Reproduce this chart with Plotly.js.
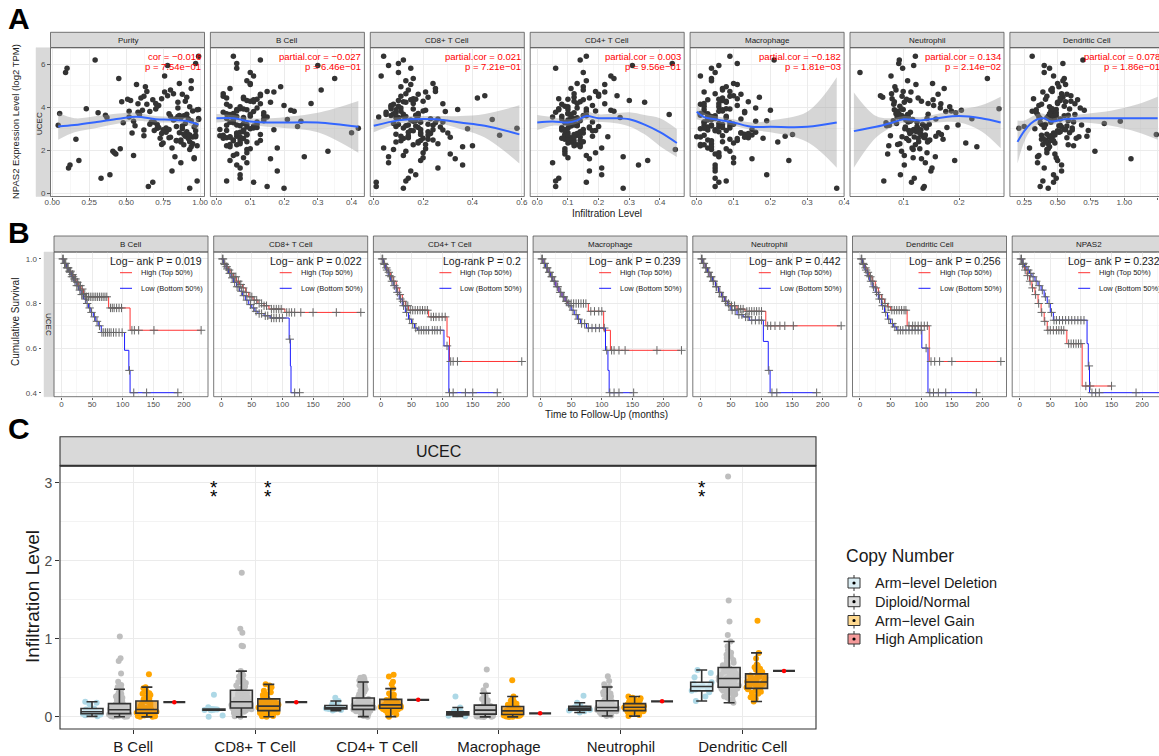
<!DOCTYPE html>
<html>
<head>
<meta charset="utf-8">
<script src="https://cdn.plot.ly/plotly-3.0.1.min.js"></script>
<style>html,body{margin:0;padding:0;background:#fff}#fig{width:1159px;height:756px}</style>
</head>
<body>
<div id="fig"></div>
<script>
const W = 1159, H = 756;
const FONT = '"Liberation Sans", Arial, sans-serif';

// ---------- A: NPAS2 expression vs infiltration ----------
const aPanels = ['Purity', 'B Cell', 'CD8+ T Cell', 'CD4+ T Cell', 'Macrophage', 'Neutrophil', 'Dendritic Cell'];
const aCor = ['cor = −0.016', 'partial.cor = −0.027', 'partial.cor = 0.021', 'partial.cor = 0.003',
  'partial.cor = −0.182', 'partial.cor = 0.134', 'partial.cor = 0.078'];
const aP = ['p = 7.54e−01', 'p = 6.46e−01', 'p = 7.21e−01', 'p = 9.56e−01', 'p = 1.81e−03', 'p = 2.14e−02', 'p = 1.86e−01'];

const npas2Y = [
  3.42,2.87,4.15,3.05,2.31,3.78,4.62,1.84,3.21,2.64,
  5.12,3.56,2.98,4.03,0.58,3.33,2.45,4.41,3.87,1.32,
  2.76,3.64,4.88,2.12,3.15,5.63,2.57,3.91,1.71,4.27,
  3.48,2.93,0.33,3.72,4.55,2.39,3.09,6.38,2.68,3.97,
  1.53,4.72,3.26,2.81,5.35,3.59,2.22,4.09,0.71,3.38,
  2.49,4.33,3.81,1.96,2.71,5.82,3.12,4.47,2.35,3.67,
  1.18,4.96,3.01,2.59,3.84,6.21,2.04,4.19,3.29,0.52,
  2.83,3.53,4.64,1.61,3.94,2.28,5.07,3.44,2.66,4.38,
  3.17,1.43,4.81,2.95,3.75,0.24,3.62,2.52,5.46,3.36,
  2.17,4.24,1.89,3.03,6.05,2.74,
  3.58,2.41,4.06,3.22,2.92,3.71,4.29,1.77,3.46,2.63,
  4.52,3.14,2.79,3.89,1.05,3.31,2.56,4.17,3.63,2.08,
  2.85,3.49,4.74,2.27,3.07,5.24,2.61,3.83,1.66,4.36,
  3.52,2.97,0.87,3.68,4.44,2.46,3.19,5.95,2.72,3.93];
const purityX = [
  0.82,0.91,0.64,0.77,0.95,0.58,0.88,0.43,0.71,0.97,
  0.86,0.52,0.79,0.93,0.98,0.67,0.84,0.74,0.61,0.12,
  0.89,0.36,0.94,0.81,0.56,0.09,0.73,0.99,0.83,0.47,
  0.92,0.69,0.65,0.05,0.78,0.87,0.96,0.99,0.62,0.85,
  0.18,0.76,0.90,0.54,0.45,0.80,0.98,0.72,0.33,0.94,
  0.87,0.53,0.66,0.41,0.97,0.10,0.84,0.91,0.75,0.59,
  0.11,0.63,0.88,0.79,0.95,0.29,0.93,0.70,0.48,0.68,
  0.86,0.37,0.82,0.96,0.23,0.74,0.57,0.99,0.90,0.51,
  0.04,0.87,0.80,0.62,0.31,0.93,0.89,0.16,0.76,0.55,
  0.94,0.85,0.42,0.71,0.97,0.92,
  0.85,0.93,0.71,0.66,0.97,0.79,0.90,0.55,0.83,0.95,
  0.62,0.88,0.74,0.98,0.81,0.69,0.92,0.58,0.86,0.46,
  0.77,0.99,0.64,0.89,0.72,0.94,0.80,0.52,0.96,0.68,
  0.87,0.75,0.39,0.91,0.60,0.84,0.97,0.78,0.93,0.70];
const bcellX = [
  0.05,0.08,0.03,0.11,0.07,0.02,0.13,0.06,0.09,0.04,
  0.10,0.15,0.01,0.07,0.03,0.12,0.05,0.08,0.22,0.06,
  0.09,0.14,0.04,0.18,0.07,0.10,0.02,0.06,0.26,0.11,
  0.08,0.03,0.15,0.05,0.13,0.07,0.09,0.05,0.01,0.12,
  0.04,0.17,0.08,0.06,0.35,0.10,0.03,0.20,0.07,0.14,
  0.05,0.09,0.11,0.33,0.02,0.06,0.24,0.08,0.12,0.04,
  0.07,0.19,0.10,0.03,0.06,0.13,0.09,0.28,0.05,0.11,
  0.40,0.08,0.02,0.16,0.07,0.04,0.10,0.21,0.06,0.12,
  0.03,0.09,0.31,0.08,0.14,0.20,0.05,0.07,0.11,0.25,
  0.04,0.16,0.09,0.42,0.06,0.13,
  0.06,0.09,0.04,0.12,0.08,0.03,0.10,0.05,0.14,0.07,
  0.02,0.11,0.06,0.09,0.18,0.04,0.08,0.13,0.05,0.10,
  0.07,0.03,0.15,0.06,0.12,0.09,0.04,0.23,0.08,0.11,
  0.05,0.17,0.07,0.10,0.03,0.13,0.06,0.30,0.09,0.08];
const cd8X = [
  0.15,0.22,0.08,0.12,0.26,0.05,0.18,0.31,0.10,0.14,
  0.24,0.02,0.19,0.07,0.13,0.28,0.11,0.16,0.21,0.36,
  0.09,0.17,0.25,0.04,0.13,0.10,0.20,0.34,0.06,0.12,
  0.23,0.15,0.01,0.18,0.45,0.09,0.27,0.04,0.14,0.11,
  0.19,0.21,0.08,0.30,0.16,0.12,0.40,0.07,0.14,0.17,
  0.24,0.10,0.29,0.13,0.51,0.15,0.09,0.22,0.18,0.05,
  0.26,0.11,0.38,0.14,0.20,0.12,0.08,0.16,0.25,0.01,
  0.19,0.10,0.13,0.33,0.07,0.21,0.15,0.48,0.11,0.17,
  0.24,0.06,0.14,0.28,0.09,0.12,0.18,0.22,0.03,0.16,
  0.36,0.13,0.20,0.58,0.10,0.19,
  0.13,0.18,0.10,0.22,0.16,0.08,0.20,0.12,0.26,0.14,
  0.11,0.17,0.23,0.09,0.15,0.19,0.12,0.28,0.07,0.21,
  0.14,0.10,0.25,0.16,0.18,0.13,0.31,0.11,0.20,0.15,
  0.09,0.24,0.17,0.12,0.42,0.19,0.14,0.06,0.22,0.16];
const cd4X = [
  0.10,0.14,0.08,0.17,0.12,0.06,0.20,0.09,0.11,0.23,
  0.13,0.05,0.15,0.10,0.06,0.18,0.12,0.07,0.24,0.33,
  0.09,0.16,0.11,0.21,0.13,0.15,0.08,0.10,0.28,0.14,
  0.12,0.19,0.06,0.10,0.26,0.11,0.17,0.16,0.09,0.13,
  0.36,0.22,0.10,0.15,0.25,0.08,0.12,0.18,0.07,0.14,
  0.11,0.30,0.16,0.09,0.13,0.06,0.20,0.12,0.10,0.43,
  0.21,0.15,0.08,0.11,0.19,0.14,0.45,0.13,0.09,0.16,
  0.10,0.27,0.12,0.17,0.07,0.14,0.22,0.11,0.18,0.10,
  0.13,0.05,0.15,0.08,0.12,0.28,0.16,0.09,0.24,0.11,
  0.14,0.35,0.19,0.10,0.44,0.12,
  0.11,0.15,0.09,0.13,0.18,0.10,0.12,0.16,0.08,0.14,
  0.20,0.11,0.13,0.07,0.17,0.12,0.10,0.22,0.15,0.09,
  0.14,0.11,0.19,0.13,0.08,0.16,0.12,0.25,0.10,0.15,
  0.13,0.09,0.21,0.11,0.17,0.14,0.12,0.31,0.10,0.16];
const macroX = [
  0.03,0.06,0.01,0.09,0.04,0.02,0.12,0.05,0.07,0.00,
  0.10,0.03,0.15,0.06,0.08,0.02,0.04,0.11,0.20,0.05,
  0.13,0.01,0.07,0.03,0.09,0.05,0.18,0.02,0.06,0.14,
  0.04,0.08,0.05,0.01,0.10,0.22,0.03,0.09,0.07,0.16,
  0.25,0.02,0.06,0.12,0.04,0.08,0.01,0.11,0.05,0.19,
  0.03,0.07,0.13,0.09,0.02,0.04,0.06,0.17,0.10,0.03,
  0.05,0.08,0.01,0.14,0.07,0.21,0.04,0.02,0.09,0.06,
  0.12,0.03,0.05,0.15,0.08,0.01,0.11,0.04,0.24,0.06,
  0.02,0.10,0.07,0.03,0.13,0.38,0.05,0.09,0.01,0.16,
  0.04,0.08,0.06,0.02,0.11,0.26,
  0.04,0.07,0.02,0.10,0.05,0.03,0.08,0.06,0.12,0.01,
  0.09,0.04,0.14,0.07,0.05,0.02,0.11,0.06,0.03,0.08,
  0.16,0.05,0.09,0.02,0.07,0.04,0.13,0.06,0.10,0.03,
  0.08,0.05,0.19,0.01,0.07,0.11,0.04,0.06,0.15,0.09];
const neutroX = [
  0.104,0.123,0.082,0.141,0.093,0.112,0.162,0.071,0.134,0.097,
  0.152,0.088,0.118,0.183,0.064,0.108,0.145,0.079,0.204,0.101,
  0.131,0.094,0.173,0.115,0.069,0.021,0.126,0.099,0.157,0.083,
  0.223,0.109,0.137,0.091,0.058,0.143,0.103,0.121,0.076,0.166,
  0.192,0.113,0.087,0.129,0.251,0.106,0.073,0.154,0.119,0.081,
  0.147,0.111,0.176,0.096,0.133,0.098,0.124,0.062,0.212,0.107,
  0.151,0.084,0.102,0.138,0.186,0.092,0.117,0.144,0.068,0.114,
  0.163,0.095,0.078,0.132,0.272,0.089,0.122,0.116,0.158,0.105,
  0.074,0.139,0.086,0.127,0.194,0.135,0.097,0.171,0.077,0.112,
  0.232,0.101,0.142,0.125,0.091,0.168,
  0.108,0.127,0.093,0.146,0.115,0.086,0.132,0.101,0.158,0.119,
  0.097,0.138,0.111,0.083,0.149,0.124,0.105,0.167,0.091,0.129,
  0.113,0.142,0.099,0.121,0.178,0.107,0.136,0.088,0.117,0.153,
  0.102,0.131,0.094,0.144,0.126,0.109,0.198,0.118,0.139,0.096];
const dendriticX = [
  0.45,0.52,0.38,0.61,0.43,0.34,0.57,0.48,0.41,0.66,
  0.50,0.36,0.55,0.44,0.39,0.62,0.47,0.32,0.70,0.53,
  0.42,0.58,0.46,0.29,0.51,0.40,0.64,0.49,0.35,0.56,
  0.44,0.73,0.37,0.48,0.60,0.42,0.53,0.31,0.45,0.67,
  0.50,0.39,0.85,0.47,0.55,0.43,0.62,0.36,0.49,0.58,
  0.41,0.52,0.46,0.78,0.38,0.44,0.25,0.54,0.48,0.63,
  0.40,0.51,0.33,0.57,0.45,0.69,0.42,0.50,0.37,0.47,
  0.59,0.43,0.53,1.05,0.46,0.39,0.56,0.48,0.72,0.41,
  0.52,0.35,0.45,0.61,0.49,0.43,0.55,0.38,0.47,0.97,
  0.44,0.50,0.42,0.21,0.54,1.24,
  0.47,0.41,0.55,0.38,0.50,0.44,0.60,0.36,0.52,0.46,
  0.42,0.57,0.48,0.34,0.53,0.45,0.39,0.63,0.49,0.43,
  0.51,0.37,0.46,0.58,0.40,0.54,0.44,0.31,0.49,0.65,
  0.42,0.56,0.47,0.35,0.52,0.45,0.68,0.40,0.48,0.59];
const scatterX = [purityX, bcellX, cd8X, cd4X, macroX, neutroX, dendriticX];

// loess fit and its confidence band
const smoothX = [
  [0.04,0.15,0.3,0.45,0.57,0.7,0.8,0.9,0.99],
  [0,0.05,0.1,0.15,0.2,0.3,0.42],
  [0,0.1,0.15,0.25,0.35,0.45,0.59],
  [0,0.05,0.1,0.13,0.16,0.2,0.25,0.3,0.35,0.4,0.455],
  [0,0.02,0.05,0.1,0.15,0.2,0.3,0.38],
  [0.01,0.05,0.08,0.1,0.13,0.16,0.2,0.24,0.275],
  [0.2,0.25,0.3,0.35,0.4,0.45,0.55,0.7,0.9,1.1,1.25]];
const smoothY = [
  [3.12,3.18,3.32,3.48,3.57,3.45,3.43,3.38,3.2],
  [3.5,3.5,3.35,3.3,3.3,3.3,3.1],
  [3.15,3.4,3.45,3.45,3.3,3.15,2.75],
  [3.3,3.35,3.3,3.4,3.6,3.5,3.5,3.45,3.2,2.85,2.35],
  [3.8,3.55,3.45,3.3,3.1,3.1,3.1,3.3],
  [2.9,3.1,3.3,3.45,3.4,3.5,3.6,3.5,3.3],
  [2.4,2.9,3.25,3.45,3.5,3.35,3.45,3.5,3.5,3.5,3.5]];
const smoothLo = [
  [2.5,2.85,3.05,3.25,3.38,3.3,3.3,3.22,2.95],
  [3.3,3.35,3.2,3.1,3.05,2.85,1.9],
  [2.85,3.25,3.3,3.3,3.0,2.6,1.4],
  [2.95,3.15,3.15,3.25,3.42,3.32,3.28,3.12,2.75,2.2,1.7],
  [3.45,3.35,3.3,3.15,2.95,2.85,2.4,1.2],
  [1.2,2.6,3.1,3.3,3.25,3.3,3.3,2.9,2.1],
  [1.4,2.4,2.95,3.2,3.3,3.2,3.3,3.3,3.15,2.85,2.5]];
const smoothHi = [
  [3.75,3.5,3.6,3.72,3.76,3.6,3.57,3.54,3.45],
  [3.7,3.65,3.5,3.5,3.55,3.75,4.3],
  [3.45,3.55,3.6,3.6,3.6,3.7,4.1],
  [3.65,3.55,3.45,3.55,3.78,3.68,3.72,3.78,3.65,3.5,3.0],
  [4.15,3.75,3.6,3.45,3.3,3.4,3.8,5.4],
  [4.7,3.6,3.5,3.6,3.55,3.7,3.9,4.1,4.5],
  [3.4,3.4,3.55,3.7,3.7,3.5,3.6,3.7,3.85,4.15,4.5]];

// ---------- B: Kaplan-Meier curves ----------
const bPanels = ['B Cell', 'CD8+ T Cell', 'CD4+ T Cell', 'Macrophage', 'Neutrophil', 'Dendritic Cell', 'NPAS2'];
const bLogrank = ['Log− ank P = 0.019', 'Log− ank P = 0.022', 'Log-rank P = 0.2', 'Log− ank P = 0.239',
  'Log− ank P = 0.442', 'Log− ank P = 0.256', 'Log− ank P = 0.232'];
const highTime = [
  [0,4,8,12,16,20,24,28,32,36,40,77,112,228],
  [0,4,8,12,16,20,25,30,35,40,45,52,60,70,78,104,228],
  [0,4,8,12,16,20,25,30,35,40,45,78,108,112,228],
  [0,4,8,12,16,20,25,30,35,40,44,78,103,114,228],
  [0,4,8,12,16,20,25,30,35,40,45,50,60,73,107,228],
  [0,4,8,12,16,20,25,30,35,40,45,50,77,113,228],
  [0,4,8,12,16,20,25,30,35,40,45,77,102,150]];
const highSurv = [
  [1,0.98,0.96,0.945,0.93,0.91,0.895,0.88,0.865,0.845,0.83,0.78,0.68,0.68],
  [1,0.98,0.965,0.95,0.935,0.92,0.9,0.885,0.87,0.85,0.83,0.815,0.8,0.79,0.775,0.76,0.76],
  [1,0.98,0.96,0.94,0.92,0.9,0.87,0.84,0.81,0.79,0.77,0.74,0.65,0.54,0.54],
  [1,0.98,0.96,0.94,0.92,0.9,0.875,0.85,0.83,0.81,0.8,0.765,0.68,0.59,0.59],
  [1,0.98,0.96,0.94,0.92,0.9,0.875,0.85,0.83,0.81,0.8,0.79,0.775,0.765,0.7,0.7],
  [1,0.98,0.96,0.94,0.92,0.9,0.87,0.84,0.82,0.8,0.785,0.77,0.7,0.54,0.54],
  [1,0.975,0.95,0.925,0.9,0.87,0.84,0.8,0.76,0.72,0.68,0.62,0.43,0.43]];
const lowTime = [
  [0,4,8,12,16,20,24,28,32,36,40,44,48,52,56,60,65,103,110,112,190],
  [0,4,8,12,16,20,25,30,35,40,45,50,55,60,70,80,111,113,114,128],
  [0,4,8,12,16,20,25,30,35,40,45,50,55,60,103,111,190],
  [0,4,8,12,16,20,25,30,35,40,45,50,55,60,65,75,106,110,112,150],
  [0,4,8,12,16,20,25,30,35,40,45,50,60,70,80,103,111,114,190],
  [0,4,8,12,16,20,25,30,35,40,45,50,55,60,101,111,190],
  [0,4,8,12,16,20,25,30,35,40,45,50,55,110,112,114,240]];
const lowSurv = [
  [1,0.98,0.96,0.94,0.92,0.9,0.88,0.86,0.84,0.82,0.8,0.78,0.76,0.74,0.72,0.7,0.67,0.59,0.5,0.4,0.4],
  [1,0.975,0.955,0.935,0.915,0.895,0.875,0.855,0.835,0.815,0.795,0.78,0.765,0.755,0.745,0.735,0.64,0.52,0.4,0.4],
  [1,0.975,0.95,0.925,0.9,0.88,0.85,0.82,0.79,0.76,0.73,0.71,0.69,0.68,0.61,0.4,0.4],
  [1,0.98,0.96,0.94,0.92,0.9,0.875,0.85,0.83,0.81,0.79,0.77,0.75,0.73,0.71,0.69,0.59,0.5,0.4,0.4],
  [1,0.98,0.96,0.94,0.92,0.9,0.875,0.85,0.83,0.81,0.79,0.77,0.75,0.74,0.725,0.63,0.5,0.4,0.4],
  [1,0.975,0.95,0.925,0.9,0.875,0.85,0.82,0.79,0.76,0.73,0.71,0.695,0.68,0.6,0.4,0.4],
  [1,0.98,0.965,0.95,0.935,0.92,0.9,0.88,0.86,0.83,0.8,0.76,0.725,0.62,0.52,0.4,0.4]];
const highCensor = [
  [2,5,7,10,13,15,18,21,23,26,29,31,34,38,41,44,47,50,53,56,59,62,65,68,71,74,80,83,86,90,94,98,115,119,126,151,228],
  [2,5,9,13,17,21,24,28,32,36,41,47,50,54,58,62,66,70,74,82,86,90,94,98,107,111,115,120,130,150,188,228],
  [2,5,9,13,17,21,26,31,36,41,44,48,52,56,60,64,68,72,76,82,86,90,95,100,105,114,118,125,230],
  [2,6,10,14,18,22,27,32,37,42,46,50,54,58,62,66,70,74,82,88,95,100,116,120,128,138,190,230],
  [2,5,9,13,17,21,26,31,36,41,46,51,56,62,66,70,76,80,84,88,92,96,100,110,115,122,130,138,152,230],
  [2,5,9,13,17,21,26,31,36,41,46,52,56,60,64,68,72,75,80,86,90,95,100,105,110,116,122,130,150,230],
  [2,5,9,13,17,21,26,31,36,41,46,50,55,60,64,68,72,80,84,88,92,96,100,108,115,150]];
const lowCensor = [
  [3,6,9,11,14,17,19,22,25,27,30,33,35,39,42,46,49,54,58,62,66,69,72,75,78,81,85,89,94,99,111,118,139,190],
  [3,6,10,14,18,22,26,29,33,37,42,48,53,57,62,66,72,76,82,86,90,95,100,112,120,128],
  [3,6,10,14,18,22,27,32,37,42,47,52,57,62,66,70,74,78,84,88,92,97,108,112,118,138,150,190],
  [3,7,11,15,19,23,28,33,38,43,48,53,58,62,67,72,78,84,90,96,104,108,113,120,128,152],
  [3,6,10,14,18,22,27,32,37,42,47,52,57,63,68,74,78,84,90,96,100,112,117,125,190],
  [3,6,10,14,18,22,27,32,37,42,47,53,57,62,66,70,75,80,85,90,95,100,108,114,120,128,140,190],
  [3,6,10,14,18,22,27,32,37,42,48,52,56,60,65,70,75,80,85,90,95,100,105,113,118,124,130,190,235]];

// ---------- C: infiltration by copy number ----------
const cCells = ['B Cell', 'CD8+ T Cell', 'CD4+ T Cell', 'Macrophage', 'Neutrophil', 'Dendritic Cell'];
const cnGroups = ['Arm−level Deletion', 'Diploid/Normal', 'Arm−level Gain', 'High Amplication'];
const armDeletion = [
  [0.008,0.021,0.032,0.041,0.052,0.058,0.064,0.071,0.083,0.095,0.108,0.162,0.181,0.195],
  [0.003,0.018,0.086,0.089,0.091,0.093,0.096,0.099,0.102,0.126,0.285],
  [0.082,0.091,0.097,0.103,0.108,0.112,0.118,0.125,0.132,0.141,0.163,0.205,0.245],
  [0.008,0.016,0.024,0.031,0.038,0.043,0.049,0.056,0.064,0.072,0.121,0.262],
  [0.058,0.072,0.083,0.094,0.101,0.107,0.113,0.122,0.131,0.142,0.183,0.271],
  [0.205,0.262,0.318,0.335,0.352,0.371,0.384,0.396,0.41,0.425,0.445,0.51,0.565,0.602]];
const diploidNormal = [
  [0.003,0.007,0.011,0.012,0.017,0.021,0.024,0.026,0.029,0.031,0.033,0.036,0.039,0.043,0.045,0.051,0.053,0.059,
   0.061,0.067,0.069,0.073,0.079,0.082,0.086,0.089,0.093,0.097,0.101,0.103,0.109,0.113,0.117,0.121,0.126,0.129,
   0.134,0.144,0.153,0.171,0.186,0.204,0.231,0.263,0.295,0.331,0.384,0.452,0.558,0.718,0.752,1.032,
   0.005,0.014,0.019,0.028,0.035,0.041,0.048,0.056,0.064,0.071,0.076,0.084,0.091,0.099,0.106,0.115,0.123,0.138,
   0.162,0.194,0.218,0.247,0.276,0.312,0.356,0.41],
  [0.002,0.018,0.034,0.052,0.067,0.079,0.088,0.094,0.099,0.103,0.106,0.112,0.118,0.123,0.129,0.134,0.141,0.146,
   0.152,0.158,0.163,0.168,0.173,0.179,0.186,0.192,0.198,0.205,0.211,0.218,0.224,0.229,0.234,0.242,0.253,0.264,
   0.278,0.293,0.312,0.334,0.362,0.392,0.421,0.448,0.483,0.518,0.552,0.571,0.588,0.905,0.912,1.078,1.132,1.848,
   0.009,0.026,0.045,0.061,0.073,0.084,0.097,0.109,0.121,0.137,0.149,0.161,0.176,0.189,0.201,0.215,0.238,0.259,
   0.286,0.323,0.351,0.376,0.403,0.437,0.467,0.534],
  [0.004,0.021,0.043,0.058,0.067,0.074,0.079,0.083,0.086,0.089,0.093,0.097,0.101,0.105,0.109,0.113,0.117,0.121,
   0.125,0.128,0.133,0.137,0.142,0.146,0.151,0.156,0.161,0.166,0.172,0.177,0.186,0.195,0.206,0.218,0.232,0.247,
   0.265,0.284,0.301,0.338,0.372,0.406,0.448,0.487,0.503,0.512,
   0.012,0.035,0.052,0.071,0.081,0.091,0.099,0.107,0.115,0.123,0.131,0.14,0.149,0.158,0.169,0.181,0.199,0.224,
   0.255,0.292,0.322,0.355,0.39,0.425,0.468],
  [0.001,0.004,0.007,0.01,0.013,0.016,0.019,0.021,0.026,0.032,0.038,0.044,0.051,0.057,0.063,0.069,0.074,0.077,
   0.081,0.085,0.089,0.093,0.097,0.101,0.106,0.11,0.114,0.123,0.134,0.148,0.162,0.178,0.195,0.232,0.268,0.305,
   0.402,0.608,
   0.003,0.009,0.015,0.024,0.035,0.047,0.055,0.066,0.079,0.087,0.095,0.104,0.112,0.128,0.141,0.155,0.172,0.188,
   0.214,0.251,0.29,0.342],
  [0.012,0.028,0.041,0.052,0.06,0.065,0.069,0.072,0.076,0.081,0.085,0.089,0.093,0.097,0.101,0.104,0.107,0.11,
   0.114,0.118,0.122,0.126,0.131,0.136,0.141,0.147,0.153,0.162,0.171,0.183,0.196,0.214,0.236,0.262,0.285,0.318,
   0.352,0.384,0.418,0.462,0.521,
   0.019,0.035,0.048,0.057,0.067,0.074,0.079,0.087,0.095,0.103,0.109,0.116,0.124,0.133,0.144,0.158,0.176,0.205,
   0.226,0.248,0.274,0.302,0.336,0.371],
  [0.182,0.224,0.262,0.291,0.314,0.335,0.351,0.364,0.372,0.381,0.392,0.403,0.414,0.425,0.436,0.446,0.455,0.462,
   0.471,0.479,0.488,0.497,0.506,0.515,0.524,0.533,0.541,0.556,0.572,0.59,0.611,0.634,0.662,0.694,0.731,0.776,
   0.823,0.856,0.905,0.968,1.052,1.223,1.492,3.081,
   0.205,0.245,0.278,0.305,0.326,0.344,0.358,0.377,0.398,0.409,0.431,0.451,0.467,0.485,0.502,0.519,0.537,0.565,
   0.58,0.6,0.624,0.649,0.678,0.712,0.755,0.796]];
const armGain = [
  [0.002,0.008,0.014,0.021,0.026,0.031,0.037,0.043,0.049,0.055,0.061,0.066,0.071,0.076,0.082,0.088,0.094,0.099,
   0.105,0.111,0.124,0.141,0.162,0.183,0.204,0.226,0.252,0.281,0.304,0.322,0.351,0.368,0.382,0.548,
   0.004,0.018,0.034,0.052,0.068,0.079,0.097,0.116,0.152,0.194,0.238,0.297],
  [0.003,0.012,0.024,0.038,0.051,0.062,0.069,0.076,0.084,0.091,0.098,0.106,0.113,0.119,0.126,0.133,0.141,0.148,
   0.156,0.163,0.171,0.184,0.198,0.214,0.232,0.251,0.272,0.294,0.318,0.352,0.381,0.405,0.418,
   0.008,0.031,0.058,0.081,0.102,0.122,0.137,0.152,0.178,0.206,0.242,0.283,0.335],
  [0.004,0.032,0.061,0.078,0.089,0.097,0.103,0.109,0.116,0.122,0.128,0.134,0.139,0.145,0.151,0.157,0.164,0.171,
   0.178,0.186,0.193,0.205,0.218,0.234,0.252,0.271,0.301,0.363,0.418,0.452,0.518,0.542,
   0.048,0.085,0.106,0.119,0.131,0.142,0.154,0.168,0.182,0.211,0.244,0.285],
  [0.001,0.005,0.009,0.013,0.018,0.022,0.028,0.035,0.042,0.05,0.057,0.063,0.068,0.074,0.081,0.089,0.096,0.104,
   0.111,0.118,0.129,0.142,0.158,0.176,0.197,0.224,0.262,0.471,
   0.003,0.015,0.031,0.046,0.06,0.078,0.093,0.108,0.135,0.168,0.211],
  [0.011,0.026,0.043,0.057,0.066,0.073,0.081,0.089,0.096,0.103,0.109,0.115,0.121,0.127,0.133,0.139,0.146,0.152,
   0.16,0.171,0.185,0.199,0.214,0.231,0.248,0.263,
   0.034,0.062,0.078,0.092,0.106,0.118,0.13,0.142,0.156,0.178,0.207,0.239],
  [0.198,0.234,0.268,0.297,0.322,0.341,0.356,0.366,0.378,0.391,0.404,0.417,0.429,0.44,0.452,0.464,0.476,0.489,
   0.501,0.513,0.531,0.552,0.576,0.604,0.638,0.672,0.748,0.821,1.232,
   0.252,0.312,0.348,0.372,0.398,0.423,0.446,0.47,0.495,0.52,0.562,0.618,0.66]];
const highAmplication = [[0.19], [0.19], [0.22], [0.047], [0.2], [0.59]];
const cnPointColors = ['#add8e6', '#bebebe', '#ffa500', '#ff0000'];
const cnBoxFill = ['rgba(214,236,244,0.75)', 'rgba(200,200,200,0.75)', 'rgba(232,150,20,0.7)', 'rgba(255,0,0,0.45)'];
const cnKeyFill = ['#dbeef4', '#dedede', '#ffd98f', '#f59a9a'];

// ---------- helpers ----------
const fx = p => p / W;
const fy = p => 1 - p / H;
const sfx = n => (n === 1 ? '' : String(n));
function survAt(ts, ss, t) {
  let s = ss[0];
  for (let k = 0; k < ts.length; k++) if (ts[k] <= t) s = ss[k];
  return s;
}
function axis(extra) {
  return Object.assign({
    showline: false, zeroline: false, showgrid: true, gridcolor: '#ebebeb', gridwidth: 1,
    ticks: 'outside', ticklen: 2.5, tickwidth: 0.8, tickcolor: '#333',
    tickfont: {size: 8, color: '#4d4d4d'}, fixedrange: true
  }, extra);
}
const shapes = [], annotations = [];
function rect(x0, y0, x1, y1, fill, line, lw, layer) {
  shapes.push({type: 'rect', xref: 'paper', yref: 'paper', x0: fx(x0), x1: fx(x1), y0: fy(y1), y1: fy(y0),
    fillcolor: fill, line: {color: line, width: lw}, layer: layer || 'above'});
}
function seg(x0, y0, x1, y1, color, w) {
  shapes.push({type: 'line', xref: 'paper', yref: 'paper', x0: fx(x0), x1: fx(x1), y0: fy(y0), y1: fy(y1),
    line: {color: color, width: w || 1}});
}
function text(t, x, y, o) {
  o = o || {};
  annotations.push({text: t, xref: 'paper', yref: 'paper', x: fx(x), y: fy(y), showarrow: false,
    xanchor: o.xa || 'center', yanchor: o.ya || 'middle', textangle: o.angle || 0,
    font: {size: o.size || 8, color: o.color || '#1a1a1a', family: FONT}});
}

const layout = {
  width: W, height: H, margin: {l: 0, r: 0, t: 0, b: 0}, showlegend: false,
  paper_bgcolor: '#fff', plot_bgcolor: '#fff', font: {family: FONT, color: '#1a1a1a'},
  boxmode: 'group', boxgap: 0.1, boxgroupgap: 0.2
};
const traces = [];

// ---------- A ----------
const aRanges = [[-0.012, 1.03], [-0.018, 0.438], [-0.014, 0.61], [-0.023, 0.479], [-0.018, 0.4], [0.003, 0.281], [0.143, 1.26]];
const aDtick = [0.25, 0.1, 0.2, 0.1, 0.1, 0.1, 0.25];
const aFmt = ['.2f', '.1f', '.1f', '.1f', '.1f', '.1f', '.2f'];
const aTop = 47.7, aBot = 196.5;
scatterX.forEach((xs, i) => {
  const n = i + 1, L = 50.5 + 159.9 * i, R = L + 154;
  layout['xaxis' + sfx(n)] = axis({domain: [fx(L), Math.min(fx(R), 1)], range: aRanges[i], dtick: aDtick[i], tick0: 0,
    tickformat: aFmt[i], anchor: 'y' + sfx(n), ticklabelstandoff: -5,
    minor: {dtick: aDtick[i] / 2, showgrid: true, gridcolor: '#f2f2f2', gridwidth: 0.6}});
  layout['yaxis' + sfx(n)] = axis({domain: [fy(aBot), fy(aTop)], range: [-0.14, 6.78], dtick: 2, tick0: 0,
    anchor: 'x' + sfx(n), showticklabels: i === 0, ticks: i === 0 ? 'outside' : '',
    minor: {dtick: 1, showgrid: true, gridcolor: '#f2f2f2', gridwidth: 0.6}});
  const xa = 'x' + sfx(n), ya = 'y' + sfx(n);
  traces.push({type: 'scatter', mode: 'markers', x: xs, y: npas2Y, xaxis: xa, yaxis: ya,
    marker: {size: 5.5, color: '#333333'}, showlegend: false, hoverinfo: 'skip'});
  traces.push({type: 'scatter', mode: 'lines', x: smoothX[i], y: smoothLo[i], xaxis: xa, yaxis: ya,
    line: {width: 0, shape: 'spline'}, showlegend: false, hoverinfo: 'skip'});
  traces.push({type: 'scatter', mode: 'lines', x: smoothX[i], y: smoothHi[i], xaxis: xa, yaxis: ya,
    line: {width: 0, shape: 'spline'}, fill: 'tonexty', fillcolor: 'rgba(153,153,153,0.4)', showlegend: false, hoverinfo: 'skip'});
  traces.push({type: 'scatter', mode: 'lines', x: smoothX[i], y: smoothY[i], xaxis: xa, yaxis: ya,
    line: {width: 2, color: '#3366ff', shape: 'spline'}, showlegend: false, hoverinfo: 'skip'});
  rect(L, aTop, R, aBot, 'rgba(0,0,0,0)', '#555', 0.8);
  rect(L, 32.3, R, aTop, '#d9d9d9', '#555', 0.8, 'below');
  text(aPanels[i], (L + R) / 2, 40, {size: 8});
  text(aCor[i], R - 1.5, 56.7, {xa: 'right', size: 9.5, color: '#ff0000'});
  text(aP[i], R - 1.5, 66.3, {xa: 'right', size: 9.5, color: '#ff0000'});
});
rect(36, aTop, 50.5, aBot, '#d9d9d9', '#d9d9d9', 0.5, 'below');
text('UCEC', 40, 124, {angle: -90, size: 8});
text('NPAS2 Expression Level (log2 TPM)', 15, 122, {angle: -90, size: 9.5});
text('Infiltration Level', 607, 214, {size: 10});

// ---------- B ----------
const bTop = 252, bBot = 396.7, bPx = 0.6125;
highTime.forEach((ht, i) => {
  const n = i + 8, L = 54 + 159.7 * i, R = L + 154, Rc = Math.min(R, W);
  layout['xaxis' + n] = axis({domain: [fx(L), fx(Rc)], range: [-12.2, -12.2 + (Rc - L) / bPx], dtick: 50, tick0: 0,
    anchor: 'y' + n, ticklabelstandoff: -3, minor: {dtick: 25, showgrid: true, gridcolor: '#f2f2f2', gridwidth: 0.6}});
  const ya = axis({domain: [fy(bBot), fy(bTop)], range: [0.382, 1.031], dtick: 0.2, tick0: 0, tickformat: '.1f',
    showticklabels: i === 0, ticks: i === 0 ? 'outside' : '',
    minor: {dtick: 0.1, showgrid: true, gridcolor: '#f2f2f2', gridwidth: 0.6}});
  if (i === 0) { ya.anchor = 'free'; ya.position = fx(41); } else { ya.anchor = 'x' + n; }
  layout['yaxis' + n] = ya;
  const xa = 'x' + n, yaN = 'y' + n;
  traces.push({type: 'scatter', mode: 'lines', x: ht, y: highSurv[i], xaxis: xa, yaxis: yaN,
    line: {shape: 'hv', color: '#ff3333', width: 1}, showlegend: false, hoverinfo: 'skip'});
  traces.push({type: 'scatter', mode: 'lines', x: lowTime[i], y: lowSurv[i], xaxis: xa, yaxis: yaN,
    line: {shape: 'hv', color: '#1a1aff', width: 1}, showlegend: false, hoverinfo: 'skip'});
  traces.push({type: 'scatter', mode: 'markers', x: highCensor[i], y: highCensor[i].map(t => survAt(ht, highSurv[i], t)),
    xaxis: xa, yaxis: yaN, marker: {symbol: 'cross-thin', size: 6, line: {width: 1, color: '#666'}}, showlegend: false, hoverinfo: 'skip'});
  traces.push({type: 'scatter', mode: 'markers', x: lowCensor[i], y: lowCensor[i].map(t => survAt(lowTime[i], lowSurv[i], t)),
    xaxis: xa, yaxis: yaN, marker: {symbol: 'cross-thin', size: 6, line: {width: 1, color: '#666'}}, showlegend: false, hoverinfo: 'skip'});
  rect(L, bTop, R, bBot, 'rgba(0,0,0,0)', '#555', 0.8);
  rect(L, 236, R, bTop, '#d9d9d9', '#555', 0.8, 'below');
  text(bPanels[i], (L + R) / 2, 244, {size: 8});
  text(bLogrank[i], L + 150, 260.7, {xa: 'right', size: 10.5});
  seg(L + 66, 272.7, L + 78, 272.7, '#ff3333');
  text('High (Top 50%)', L + 85, 272.7, {xa: 'left', size: 7.5});
  seg(L + 66, 288.3, L + 78, 288.3, '#1a1aff');
  text('Low (Bottom 50%)', L + 85, 288.3, {xa: 'left', size: 7.5});
});
rect(44, bTop, 54, bBot, '#d9d9d9', '#d9d9d9', 0.5, 'below');
text('UCEC', 49, 324, {angle: 90, size: 8});
text('Cumulative Survival', 15, 322, {angle: -90, size: 10});
text('Time to Follow-Up (months)', 606, 414.5, {size: 10});

// ---------- C ----------
const cTop = 465.7, cBot = 729, cL = 60, cR = 816;
layout.xaxis15 = axis({domain: [fx(cL), fx(cR)], type: 'category', categoryorder: 'array', categoryarray: cCells,
  range: [-0.6, 5.6], anchor: 'y15', ticklen: 4, tickwidth: 1, tickfont: {size: 15, color: '#1a1a1a'}});
layout.yaxis15 = axis({domain: [fy(cBot), fy(cTop)], range: [-0.154, 3.22], dtick: 1, tick0: 0, anchor: 'x15',
  ticklen: 4, tickwidth: 1, tickfont: {size: 14, color: '#4d4d4d'},
  minor: {dtick: 0.5, showgrid: true, gridcolor: '#f0f0f0', gridwidth: 0.8}});
const cnData = [armDeletion, diploidNormal, armGain, highAmplication];
function flatten(groups) {
  const xs = [], ys = [];
  groups.forEach((vals, c) => vals.forEach(v => { xs.push(cCells[c]); ys.push(v); }));
  return {xs, ys};
}
// jittered samples first, boxes over them, the single amplified samples on top
cnData.forEach((groups, g) => {
  if (g === 3) return;
  const d = flatten(groups);
  traces.push({type: 'box', x: d.xs, y: d.ys, xaxis: 'x15', yaxis: 'y15', offsetgroup: 'g' + g, name: cnGroups[g],
    boxpoints: 'all', jitter: 1, pointpos: 0, marker: {size: 6, color: cnPointColors[g]},
    line: {color: 'rgba(0,0,0,0)', width: 0}, fillcolor: 'rgba(0,0,0,0)', showlegend: false, hoverinfo: 'skip'});
});
cnData.forEach((groups, g) => {
  const d = flatten(groups);
  traces.push({type: 'box', x: d.xs, y: d.ys, xaxis: 'x15', yaxis: 'y15', offsetgroup: 'g' + g, name: cnGroups[g],
    boxpoints: 'outliers', marker: {size: 1, color: 'rgba(0,0,0,0)'},
    line: {color: '#333333', width: g === 3 ? 2.2 : 1.6}, fillcolor: cnBoxFill[g], showlegend: false, hoverinfo: 'skip'});
});
const amp = flatten(highAmplication);
traces.push({type: 'box', x: amp.xs, y: amp.ys, xaxis: 'x15', yaxis: 'y15', offsetgroup: 'g3', name: cnGroups[3],
  boxpoints: 'all', jitter: 0, pointpos: 0, marker: {size: 4.5, color: cnPointColors[3]},
  line: {color: 'rgba(0,0,0,0)', width: 0}, fillcolor: 'rgba(0,0,0,0)', showlegend: false, hoverinfo: 'skip'});
rect(cL, cTop, cR, cBot, 'rgba(0,0,0,0)', '#333', 1.1);
rect(cL, 436.7, cR, cTop, '#d9d9d9', '#333', 1.1, 'below');
seg(cL, cTop, cR, cTop, '#333', 2);
text('UCEC', (cL + cR) / 2, 451.5, {size: 16});
text('Infiltration Level', 32, 597, {angle: -90, size: 19});
[214, 268, 702].forEach(x => {
  text('*', x, 487, {size: 19, color: '#000'});
  text('*', x, 496, {size: 19, color: '#000'});
});

// legend for copy number, drawn as ggplot keys
text('Copy Number', 844.5, 556, {xa: 'left', size: 17.5});
[583, 601.7, 620.5, 639].forEach((y, g) => {
  seg(854, y - 8, 854, y + 8, '#333', 1);
  rect(848, y - 5, 860, y + 5, cnKeyFill[g], '#333', 1);
  shapes.push({type: 'circle', xref: 'paper', yref: 'paper', x0: fx(852.4), x1: fx(855.6), y0: fy(y + 1.6), y1: fy(y - 1.6),
    fillcolor: '#000', line: {width: 0}});
  text(cnGroups[g], 873, y, {xa: 'left', size: 14.5});
});

// panel letters
text('<b>A</b>', 19, 18, {size: 30, color: '#000'});
text('<b>B</b>', 19, 232, {size: 30, color: '#000'});
text('<b>C</b>', 19, 428, {size: 30, color: '#000'});

layout.shapes = shapes;
layout.annotations = annotations;
Plotly.newPlot('fig', traces, layout, {staticPlot: true});
</script>
</body>
</html>
